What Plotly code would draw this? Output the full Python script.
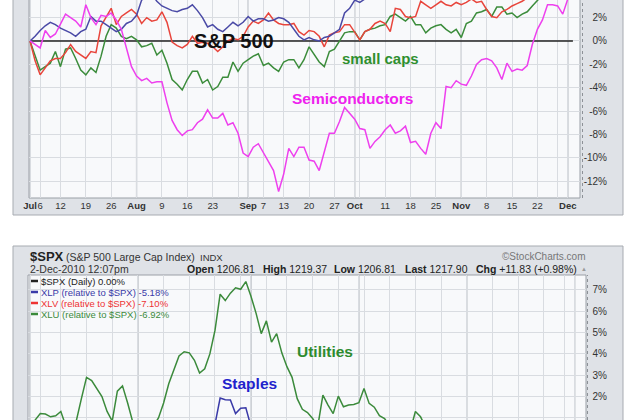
import plotly.graph_objects as go
import pandas as pd

W, H = 640, 420

HOLIDAYS = ["2010-07-05", "2010-09-06", "2010-11-25"]
dates = [d.strftime("%Y-%m-%d") for d in pd.bdate_range("2010-07-01", "2010-12-02")
         if d.strftime("%Y-%m-%d") not in HOLIDAYS]

tick_dates = ["2010-07-01", "2010-07-06", "2010-07-12", "2010-07-19", "2010-07-26",
              "2010-08-02", "2010-08-09", "2010-08-16", "2010-08-23", "2010-08-30",
              "2010-09-01", "2010-09-07", "2010-09-13", "2010-09-20", "2010-09-27",
              "2010-10-01", "2010-10-04", "2010-10-11", "2010-10-18", "2010-10-25",
              "2010-11-01", "2010-11-08", "2010-11-15", "2010-11-22", "2010-11-29",
              "2010-12-01"]
tick_days = ["Jul", "6", "12", "19", "26", "Aug", "9", "16", "23", "",
             "Sep", "7", "13", "20", "27", "Oct", "", "11", "18", "25",
             "Nov", "8", "15", "22", "", "Dec"]
month_names = ["Jul", "Aug", "Sep", "Oct", "Nov", "Dec"]
month_starts = ["2010-07-01", "2010-08-02", "2010-09-01", "2010-10-01", "2010-11-01", "2010-12-01"]

top_yticks = [-12, -10, -8, -6, -4, -2, 0, 2]
top_ylabels = ["-12%", "-10%", "-8%", "-6%", "-4%", "-2%", "0%", "2%"]
bot_yticks = [1, 2, 3, 4, 5, 6, 7]
bot_ylabels = ["1%", "2%", "3%", "4%", "5%", "6%", "7%"]

# ---------------- top panel (% change since 1 Jul 2010) ----------------
sp500_top = [0.0] * len(dates)
blue_top = [0, 0.4, 0.9, 1.3, 1.6, 1.4, 1.1, 0.9, 0.7, 0.4,
            0.8, 1.0, 2.1, 1.7, 1.7, 1.4, 1.1, 0.8, 1.0, 1.5,
            1.7, 2.2, 3.5, 3.9, 4.0, 3.4, 3.0, 2.8, 2.6, 2.5,
            2.7, 2.8, 3.1, 2.6, 2.0, 1.2, 1.4, 1.0, 0.8, 1.2,
            1.6, 1.3, 1.6, 2.1, 1.7, 1.9, 1.9, 1.7, 1.8, 2.0,
            1.9, 1.6, 1.0, 0.4, 0.1, 0.3, 0.1, 0.0, 0.3, 0.4,
            0.7, 1.0, 2.4, 2.8, 3.5, 3.3, 3.6, 4.0, 4.3, 4.1,
            4.6, 4.4, 5.0, 5.2, 4.9, 5.3, 5.6, 5.4, 5.8, 6.0,
            5.7, 6.1, 6.3, 6.0, 6.4, 6.2, 6.6, 6.9, 6.5, 6.8,
            6.4, 6.0, 6.2, 6.5, 6.7, 7.0, 7.2, 6.9, 7.1, 7.5,
            7.8, 8.0, 7.7, 7.9, 8.2, 8.0, 8.4, 8.6]
red_top = [0, -1.7, -2.9, -2.3, -1.7, -1.5, -1.5, -1.0, -0.3, -0.9,
           -1.2, -1.5, -0.9, -1.0, 1.3, 2.1, 2.8, 1.4, 2.1, 2.4,
           2.7, 2.3, 1.5, 2.0, 1.7, 1.8, 2.5, 1.6, -0.1, -0.4,
           -0.6, -0.3, 0.4, -0.2, -0.1, -0.2, -0.5, -0.9, -0.5, 0.0,
           0.2, 0.1, 0.4, 1.2, 1.7, 1.5, 1.8, 2.4, 1.8, 1.5,
           1.4, 1.4, 1.5, 0.8, 0.5, 0.9, 0.8, 0.4, -0.5, 0.5,
           0.7, 0.8, 1.4, 1.4, 0.7, 0.1, 0.8, 1.0, 1.5, 1.7,
           1.5, 0.8, 2.8, 2.7, 2.1, 2.0, 2.1, 3.4, 3.1, 2.8,
           3.1, 3.4, 3.1, 3.0, 3.3, 3.1, 3.3, 3.6, 3.3, 3.4,
           2.7, 2.1, 2.0, 2.5, 2.7, 3.0, 3.2, 3.4, 3.7, 3.9,
           4.1, 4.3, 4.6, 4.8, 4.7, 4.5, 5.0, 5.3]
small_caps = [0, -1.2, -2.5, -2.2, -1.9, -0.9, -2.2, -0.7, -0.6, -1.5,
              -2.5, -2.9, -2.3, -2.7, -1.3, 0.4, 1.4, 1.1, 0.4, 0.2,
              0.4, 0.1, -0.5, -0.4, -0.2, -1.2, -0.8, -1.9, -3.3, -3.7,
              -4.2, -3.3, -2.6, -2.6, -3.6, -3.3, -4.2, -3.9, -3.1, -3.1,
              -1.8, -2.6, -1.9, -1.6, -1.3, -1.1, -2.1, -1.9, -2.3, -2.6,
              -1.8, -1.6, -1.6, -2.3, -1.6, -0.5, -1.1, -1.8, -2.2, -0.9,
              -0.7, 0.0, 0.7, 0.8, 0.8, 0.1, 0.8, 1.0, 1.1, 1.3,
              1.4, 2.1, 2.3, 2.0, 1.7, 2.1, 1.4, 1.4, 0.7, 1.1,
              1.3, 1.4, 1.0, 0.7, 1.0, 0.3, 1.5, 1.7, 2.4, 2.5,
              2.7, 2.1, 2.9, 2.9, 2.3, 2.4, 2.0, 2.3, 2.5, 3.0,
              3.5, 3.9, 4.4, 4.6, 4.5, 4.2, 4.8, 5.2]
semis = [0, -0.3, -0.6, 0.9, 0.3, 0.6, 1.5, 2.3, 2.0, 1.7,
         1.2, 3.1, 2.0, 1.4, 2.2, 2.1, 2.4, 1.8, 1.0, -0.6,
         -2.2, -3.0, -3.4, -3.2, -3.6, -3.5, -3.5, -5.3, -6.8, -7.6,
         -8.1, -7.7, -7.6, -7.0, -6.7, -5.9, -6.6, -6.6, -6.2, -7.2,
         -7.0, -7.9, -9.6, -9.9, -9.1, -8.8, -9.6, -10.4, -11.1, -12.9,
         -11.4, -9.2, -9.9, -9.1, -9.1, -10.2, -10.3, -11.1, -9.5, -7.9,
         -7.9, -6.9, -5.7, -6.2, -6.7, -7.5, -7.6, -9.2, -8.6, -8.2,
         -7.6, -7.2, -7.9, -7.7, -7.3, -8.7, -8.6, -9.2, -9.7, -7.9,
         -7.0, -7.5, -3.9, -4.0, -3.4, -3.7, -3.8, -3.0, -2.0, -1.6,
         -1.5, -1.7, -2.3, -3.3, -1.9, -2.6, -2.4, -2.5, -2.1, -0.3,
         1.0, 1.8, 3.1, 3.1, 3.0, 2.3, 3.6, 4.5]

# ---------------- bottom panel (relative to $SPX) ----------------
spx_bottom = [0.0] * len(dates)
xlp = [0, 0.3, 0.5, 0.2, 0.4, 0.6, 0.3, -0.2, -0.1, 0.2,
       0.6, 0.8, 0.7, 0.4, 0.1, -0.3, -0.5, 0.2, 0.4, -0.1,
       -0.6, -0.9, -0.8, -0.5, -0.6, -0.3, 0.1, 0.3, 0.5, 0.7,
       0.8, 0.6, 0.4, 0.2, 0.3, 0.5, 0.7, 1.93, 1.85, 1.84,
       1.2, 1.45, 1.47, 0.6, 0.2, -0.3, 0.1, -0.4, -0.2, -0.8,
       -1.2, -1.6, -2.1, -2.3, -2.5, -2.8, -3.0, -2.2, -2.6, -2.9,
       -2.4, -2.7, -2.6, -2.5, -2.4, -1.9, -2.5, -2.7, -3.0, -3.2,
       -3.5, -3.7, -3.8, -3.9, -3.6, -3.0, -3.3, -3.7, -4.0, -4.1,
       -4.2, -4.3, -4.6, -4.8, -4.7, -4.9, -4.6, -4.8, -5.0, -5.1,
       -4.9, -4.6, -4.7, -4.9, -4.8, -5.0, -5.2, -5.1, -5.3, -5.4,
       -5.2, -5.0, -5.1, -5.3, -5.2, -5.0, -5.1, -5.18]
xlv = [0, -0.2, -0.4, -0.1, 0.1, 0.3, 0.0, -0.3, -0.4, -0.2,
       0.1, 0.4, 0.3, 0.0, -0.2, -0.5, -0.7, -0.3, -0.1, -0.5,
       -0.9, -1.1, -1.0, -0.8, -0.9, -0.6, -0.3, 0.0, 0.2, 0.4,
       0.5, 0.3, 0.1, -0.1, 0.0, 0.2, 0.4, 0.7, 0.5, 0.6,
       0.2, 0.4, 0.5, -0.1, -0.4, -0.8, -0.5, -0.9, -0.7, -1.2,
       -1.6, -2.0, -2.4, -2.7, -2.9, -3.2, -3.5, -2.9, -3.2, -3.5,
       -3.1, -3.4, -3.3, -3.2, -3.1, -2.7, -3.2, -3.5, -3.8, -4.0,
       -4.3, -4.6, -4.8, -4.9, -4.7, -4.1, -4.5, -4.9, -5.3, -5.5,
       -5.7, -5.9, -6.2, -6.4, -6.3, -6.5, -6.2, -6.4, -6.7, -6.8,
       -6.6, -6.3, -6.4, -6.6, -6.5, -6.7, -6.9, -6.8, -7.0, -7.2,
       -7.0, -6.8, -6.9, -7.1, -7.0, -6.9, -7.0, -7.10]
xlu = [0, 0.9, 1.2, 1.18, 1.05, 1.1, 1.3, 0.6, 0.5, 0.85,
       1.9, 2.9, 2.75, 2.4, 2.0, 1.3, 0.85, 2.25, 2.5, 1.7,
       0.8, 0.4, 0.3, 0.5, 0.6, 1.0, 1.7, 2.6, 3.3, 3.9,
       4.1, 4.05, 3.7, 3.1, 3.3, 4.0, 5.1, 6.8, 6.5, 6.85,
       7.1, 7.03, 7.39, 6.7, 5.9, 4.95, 5.55, 4.55, 4.95, 4.05,
       3.4, 2.9, 1.9, 1.4, 1.25, 0.97, 0.6, 2.07, 1.6, 1.2,
       2.02, 1.52, 1.6, 1.63, 1.71, 2.38, 1.68, 1.5, 1.1, 0.97,
       0.6, 0.4, 0.3, 0.2, 0.4, 1.3, 1.05, 0.5, -0.1, -0.5,
       -0.9, -1.3, -1.8, -2.2, -2.0, -2.5, -2.3, -2.8, -3.2, -3.6,
       -3.3, -3.9, -4.3, -4.6, -4.4, -4.9, -5.3, -5.6, -5.4, -5.9,
       -6.2, -6.5, -6.3, -6.7, -6.9, -6.6, -6.8, -6.92]

for s in (blue_top, red_top, small_caps, semis, xlp, xlv, xlu):
    assert len(s) == len(dates), len(s)


def P(px):
    return px / W


def Q(py):
    return 1 - py / H


FONT = "Arial, Liberation Sans, sans-serif"
GRID = "#d9dce1"

tick_text = [("<b>%s</b>" % t) if t in month_names else t for t in tick_days]

fig = go.Figure()

top_series = [(sp500_top, "#222222", "S&P 500"), (small_caps, "#3b8c3b", "small caps"),
              (red_top, "#e8453c", "red"), (blue_top, "#4a4aa6", "blue"), (semis, "#ee40ee", "Semiconductors")]
for vals, col, name in top_series:
    fig.add_trace(go.Scatter(x=dates, y=vals, name=name, mode="lines", xaxis="x", yaxis="y",
                             line=dict(color=col, width=1.5), hoverinfo="skip"))

bot_series = [(spx_bottom, "#222222", "$SPX"), (xlv, "#e8453c", "XLV"), (xlp, "#3a3aa8", "XLP"),
              (xlu, "#3b8a3b", "XLU")]
for vals, col, name in bot_series:
    fig.add_trace(go.Scatter(x=dates, y=vals, name=name, mode="lines", xaxis="x2", yaxis="y2",
                             line=dict(color=col, width=1.5), hoverinfo="skip"))

shapes = []
# panel frames and plot backgrounds
shapes.append(dict(type="rect", xref="paper", yref="paper", x0=P(13), x1=P(623), y0=Q(215), y1=Q(-5),
                   fillcolor="#dfe2e7", line=dict(color="#a7abb1", width=1), layer="below"))
shapes.append(dict(type="rect", xref="paper", yref="paper", x0=P(29), x1=P(580), y0=Q(198), y1=Q(-5),
                   fillcolor="#f8f9fb", line=dict(color="#9a9fa6", width=1), layer="below"))
shapes.append(dict(type="rect", xref="paper", yref="paper", x0=P(13), x1=P(623), y0=Q(425), y1=Q(246),
                   fillcolor="#dfe2e7", line=dict(color="#a7abb1", width=1), layer="below"))
shapes.append(dict(type="rect", xref="paper", yref="paper", x0=P(28), x1=P(586), y0=Q(425), y1=Q(275),
                   fillcolor="#f8f9fb", line=dict(color="#9a9fa6", width=1), layer="below"))
# dotted scale lines at the right edge
shapes.append(dict(type="line", xref="paper", yref="paper", x0=P(582.5), x1=P(582.5), y0=Q(198), y1=1,
                   line=dict(color="#8d9197", width=1, dash="dot")))
shapes.append(dict(type="line", xref="paper", yref="paper", x0=P(587.5), x1=P(587.5), y0=0, y1=Q(275),
                   line=dict(color="#8d9197", width=1, dash="dot")))
# darker month separators
for m in month_starts:
    i = dates.index(m)
    for xr, yr in (("x", "y domain"), ("x2", "y2 domain")):
        shapes.append(dict(type="line", xref=xr, yref=yr, x0=i, x1=i, y0=0, y1=1,
                           line=dict(color="#b3b7bd", width=1.3), layer="below"))
# legend swatches
legend_rows = [("$SPX (Daily) 0.00%", "#222222", 281),
               ("XLP (relative to $SPX) -5.18%", "#3a3aa8", 292),
               ("XLV (relative to $SPX) -7.10%", "#ee3333", 303),
               ("XLU (relative to $SPX) -6.92%", "#3b8a3b", 314)]
for txt, col, yy in legend_rows:
    shapes.append(dict(type="line", xref="paper", yref="paper", x0=P(31), x1=P(38), y0=Q(yy), y1=Q(yy),
                       line=dict(color=col, width=2.5)))

annotations = []


def ann(text, x, y, size, color, xanchor="left", bold=False, pad=1):
    annotations.append(dict(text=("<b>%s</b>" % text) if bold else text, x=P(x), y=Q(y),
                            xref="paper", yref="paper", xanchor=xanchor, yanchor="middle",
                            showarrow=False, borderpad=pad,
                            font=dict(family=FONT, size=size, color=color)))


# top panel labels
ann("S&P 500", 234, 41, 20, "#111111", "center", True)
ann("small caps", 380, 59, 15, "#2f8f2f", "center", True)
ann("Semiconductors", 352, 98, 15.5, "#ee22ee", "center", True)

# bottom panel header
ann("$SPX", 28, 256, 13, "#222222", "left", True)
ann("(S&P 500 Large Cap Index)", 64, 257, 10.5, "#333333")
ann("INDX", 198, 257, 9.5, "#333333")
ann("©StockCharts.com", 588, 256, 10, "#777777", "right")
ann("2-Dec-2010 12:07pm", 28, 269, 10.5, "#333333")
ann("<b>Open</b> 1206.81", 185, 269, 10.5, "#222222")
ann("<b>High</b> 1219.37", 261, 269, 10.5, "#222222")
ann("<b>Low</b> 1206.81", 332, 269, 10.5, "#222222")
ann("<b>Last</b> 1217.90", 403, 269, 10.5, "#222222")
ann("<b>Chg</b> +11.83 (+0.98%)", 474, 269, 10.5, "#222222")
ann("▲", 584, 269, 6, "#9a9a9a", "center")
for txt, col, yy in legend_rows:
    ann(txt, 40, yy, 9.5, col, pad=0)
ann("Utilities", 325, 351, 15.5, "#2e8b2e", "center", True)
ann("Staples", 249, 383, 15.5, "#2222cc", "center", True)

common_x = dict(type="category", categoryorder="array", categoryarray=dates,
                tickvals=tick_dates, showgrid=True, gridcolor=GRID, gridwidth=1, tickangle=0,
                ticks="", zeroline=False, showline=False, automargin=False, fixedrange=True)

fig.update_layout(
    width=W, height=H, margin=dict(l=0, r=0, t=0, b=0),
    paper_bgcolor="white", plot_bgcolor="rgba(0,0,0,0)", showlegend=False,
    font=dict(family=FONT, color="#333333"),
    xaxis=dict(domain=[P(29), P(580)], range=[-0.2, 108.4], anchor="y", ticktext=tick_text,
               tickfont=dict(size=9.5, color="#333333"), **common_x),
    yaxis=dict(domain=[Q(198), 1], range=[-13.45, 3.51], side="left", anchor="free", position=P(607),
               tickvals=top_yticks, ticktext=top_ylabels, showgrid=True, gridcolor=GRID, ticks="",
               tickfont=dict(size=10, color="#333333"), zeroline=False, showline=False,
               automargin=False, fixedrange=True),
    xaxis2=dict(domain=[P(28), P(586)], range=[-0.39, 108.2], anchor="y2", showticklabels=False,
                ticktext=tick_days, **common_x),
    yaxis2=dict(domain=[0, Q(275)], range=[0.90, 7.70], side="left", anchor="free", position=P(607),
                tickvals=bot_yticks, ticktext=bot_ylabels, showgrid=True, gridcolor=GRID, ticks="",
                tickfont=dict(size=10, color="#333333"), zeroline=False, showline=False,
                automargin=False, fixedrange=True),
    shapes=shapes, annotations=annotations,
)

fig.write_html("out.html", config={"displayModeBar": False},
               post_script="document.body.style.margin='0px';document.body.style.overflow='hidden';")
